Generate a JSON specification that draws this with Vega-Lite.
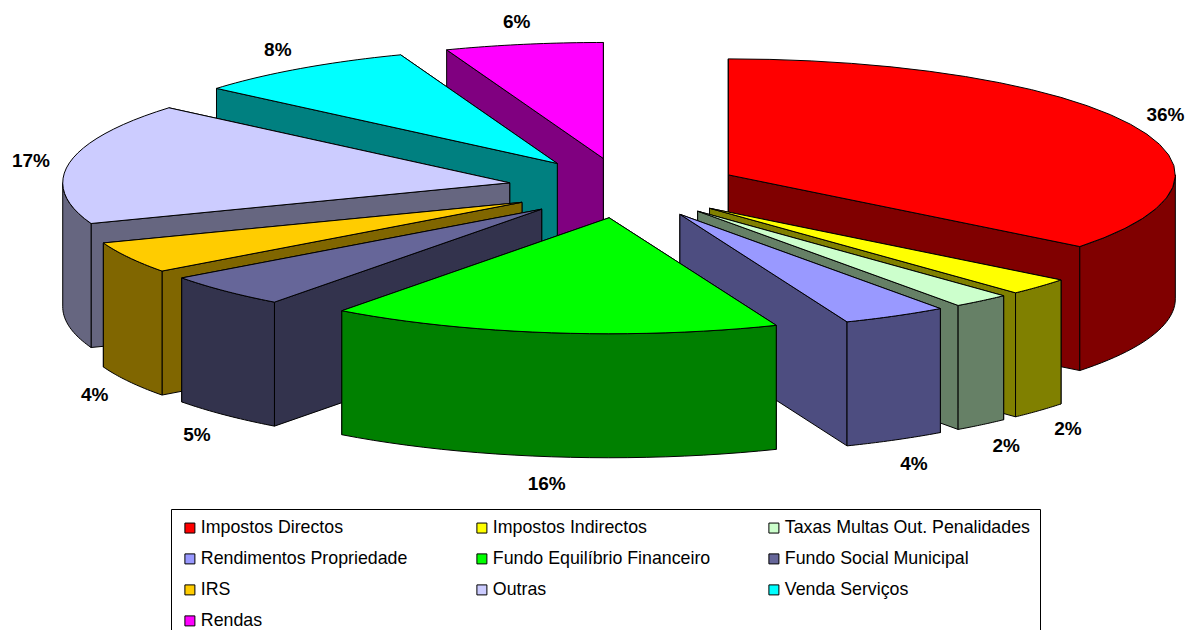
{
  "$schema": "https://vega.github.io/schema/vega-lite/v6.json",
  "width": 1187,
  "height": 630,
  "padding": 0,
  "autosize": {"type": "none"},
  "background": "white",
  "config": {"view": {"stroke": null}, "font": "Liberation Sans"},
  "data": {"values": [
    {"n": 10, "source": "Rendas", "share": 5.7},
    {"n": 9, "source": "Venda Serviços", "share": 8.1},
    {"n": 1, "source": "Impostos Directos", "share": 35.6},
    {"n": 8, "source": "Outras", "share": 16.9},
    {"n": 7, "source": "IRS", "share": 4.4},
    {"n": 2, "source": "Impostos Indirectos", "share": 2.4},
    {"n": 3, "source": "Taxas Multas Out. Penalidades", "share": 2.1},
    {"n": 6, "source": "Fundo Social Municipal", "share": 4.7},
    {"n": 4, "source": "Rendimentos Propriedade", "share": 3.8},
    {"n": 5, "source": "Fundo Equilíbrio Financeiro", "share": 16.3}
  ]},
  "transform": [
    {"window": [{"op": "sum", "field": "share", "as": "cum"}], "sort": [{"field": "n"}], "frame": [null, 0]},
    {"calculate": "(datum.cum-datum.share)*3.6", "as": "t0"},
    {"calculate": "datum.cum*3.6", "as": "t1"},
    {"calculate": "(datum.t0+datum.t1)/2", "as": "mid"},
    {"calculate": "116*sin(datum.mid*PI/180)", "as": "ax"},
    {"calculate": "-30*cos(datum.mid*PI/180)", "as": "ay"}
  ],
  "layer": [
    {
      "transform": [
        {"calculate": "[0,1,2,3]", "as": "face"},
        {"flatten": ["face"]},
        {"calculate": "[0,1,2,3,4,5,6,7,8,9,10,11,12,13,14,15,16,17,18,19,20,21,22,23,24,25,26,27,28,29,30,31,32,33,34,35,36,37,38,39,40,41,42,43,44,45,46,47,48,49]", "as": "i"},
        {"flatten": ["i"]},
        {"calculate": "max(datum.t0,90)", "as": "w0"},
        {"calculate": "min(datum.t1,270)", "as": "w1"},
        {"filter": "datum.face==3 ? datum.i<=25 : datum.face==2 ? datum.w1>datum.w0 : datum.i<=3"},
        {"calculate": "datum.face==3 ? datum.i==25 : datum.face<2 ? (datum.i==0||datum.i==3) : false", "as": "isApex"},
        {"calculate": "datum.face==3 ? datum.t0+(datum.t1-datum.t0)*datum.i/24 : datum.face==2 ? (datum.i<=24 ? datum.w0+(datum.w1-datum.w0)*datum.i/24 : datum.w1-(datum.w1-datum.w0)*(datum.i-25)/24) : ((datum.face==0)==(datum.mid<180) ? datum.t0 : datum.t1)", "as": "t"},
        {"calculate": "datum.face==2 ? datum.i>24 : datum.face<2 ? datum.i>=2 : false", "as": "lowered"},
        {"calculate": "datum.ax+(datum.isApex?0:447*sin(datum.t*PI/180))", "as": "across"},
        {"calculate": "datum.ay+(datum.isApex?0:-116*cos(datum.t*PI/180))+(datum.lowered?124:0)", "as": "down"},
        {"calculate": "datum.face==3 ? datum.source : datum.source+' (lado)'", "as": "paint"}
      ],
      "mark": {"type": "line", "interpolate": "linear-closed", "stroke": "black", "strokeWidth": 1},
      "encoding": {
        "x": {"field": "across", "type": "quantitative", "axis": null, "scale": {"domain": [-624, 563]}},
        "y": {"field": "down", "type": "quantitative", "axis": null, "scale": {"domain": [442, -188]}},
        "order": {"field": "i", "type": "quantitative"},
        "detail": {"field": "face", "type": "nominal"},
        "fill": {
          "field": "paint",
          "type": "nominal",
          "scale": {
            "domain": ["Impostos Directos","Impostos Indirectos","Taxas Multas Out. Penalidades","Rendimentos Propriedade","Fundo Equilíbrio Financeiro","Fundo Social Municipal","IRS","Outras","Venda Serviços","Rendas","Impostos Directos (lado)","Impostos Indirectos (lado)","Taxas Multas Out. Penalidades (lado)","Rendimentos Propriedade (lado)","Fundo Equilíbrio Financeiro (lado)","Fundo Social Municipal (lado)","IRS (lado)","Outras (lado)","Venda Serviços (lado)","Rendas (lado)"],
            "range": ["#FF0000","#FFFF00","#CCFFCC","#9999FF","#00FF00","#666699","#FFCC00","#CCCCFF","#00FFFF","#FF00FF","#800000","#808000","#668066","#4D4D80","#008000","#33334D","#806600","#666680","#008080","#800080"]
          },
          "legend": {
            "values": ["Impostos Directos","Impostos Indirectos","Taxas Multas Out. Penalidades","Rendimentos Propriedade","Fundo Equilíbrio Financeiro","Fundo Social Municipal","IRS","Outras","Venda Serviços","Rendas"],
            "title": null,
            "orient": "none",
            "legendX": 171,
            "legendY": 509,
            "direction": "horizontal",
            "columns": 3,
            "gridAlign": "all",
            "columnPadding": 27,
            "rowPadding": 12,
            "padding": 10,
            "strokeColor": "black",
            "symbolType": "square",
            "symbolSize": 100,
            "symbolStrokeColor": "black",
            "symbolStrokeWidth": 1,
            "symbolOpacity": 1,
            "labelFont": "Liberation Sans",
            "labelFontSize": 17.8,
            "labelColor": "black",
            "labelLimit": 320,
            "labelOffset": 2
          }
        }
      }
    },
    {
      "transform": [
        {"calculate": "format(datum.share,'.0f')+'%'", "as": "label"},
        {"calculate": "datum.ax+486*sin(datum.mid*PI/180)", "as": "across"},
        {"calculate": "datum.ay+2-141*cos(datum.mid*PI/180)+(cos(datum.mid*PI/180)<0?124:0)", "as": "down"}
      ],
      "mark": {"type": "text", "font": "Liberation Sans", "fontWeight": "bold", "fontSize": 19, "color": "black", "align": "center", "baseline": "middle"},
      "encoding": {
        "x": {"field": "across", "type": "quantitative", "axis": null, "scale": {"domain": [-624, 563]}},
        "y": {"field": "down", "type": "quantitative", "axis": null, "scale": {"domain": [442, -188]}},
        "text": {"field": "label", "type": "nominal"}
      }
    }
  ]
}
